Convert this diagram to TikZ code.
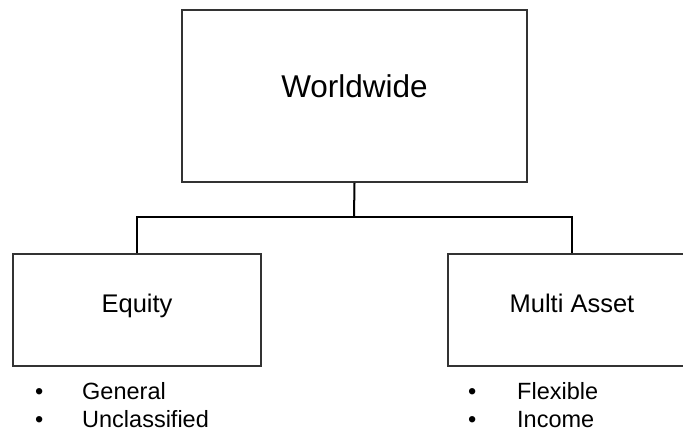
\documentclass[tikz,border=0pt]{standalone}
\usepackage{fontspec}
\setmainfont{Liberation Sans}
\begin{document}
\begin{tikzpicture}[x=1pt,y=-1pt,
  box/.style={draw=black!80,line width=2pt,minimum width=#1,inner sep=0pt,anchor=center},
  conn/.style={draw=black,line width=2pt},
  item/.style={anchor=base west,inner sep=0pt,font=\fontsize{23.5}{28}\selectfont}]
\useasboundingbox (0,0) rectangle (683,435);
\clip (0,0) rectangle (683,435);
\node[box=345pt,minimum height=172pt,text height=14pt,text depth=10pt,font=\fontsize{31.5}{36}\selectfont] (top) at (354.5,96) {Worldwide};
\node[box=248pt,minimum height=112pt,text height=14pt,text depth=8pt,font=\fontsize{25.5}{30}\selectfont] (left) at (137,310) {Equity};
\node[box=248pt,minimum height=112pt,text height=14pt,text depth=8pt,font=\fontsize{25.5}{30}\selectfont] (right) at (572,310) {Multi Asset};
\coordinate (j) at (354,217);
\draw[conn] (top.south) -- (j);
\draw[conn] (left.north) -- (left.north |- j) -- (right.north |- j) -- (right.north);
\node[item] (b1) at (35,400) {•};
\node[item] (t1) at (82,400) {General};
\node[item] (b2) at (35,428) {•};
\node[item] (t2) at (82,428) {Unclassified};
\node[item] (b3) at (468,400) {•};
\node[item] (t3) at (517,400) {Flexible};
\node[item] (b4) at (468,428) {•};
\node[item] (t4) at (517,428) {Income};
\end{tikzpicture}
\end{document}
